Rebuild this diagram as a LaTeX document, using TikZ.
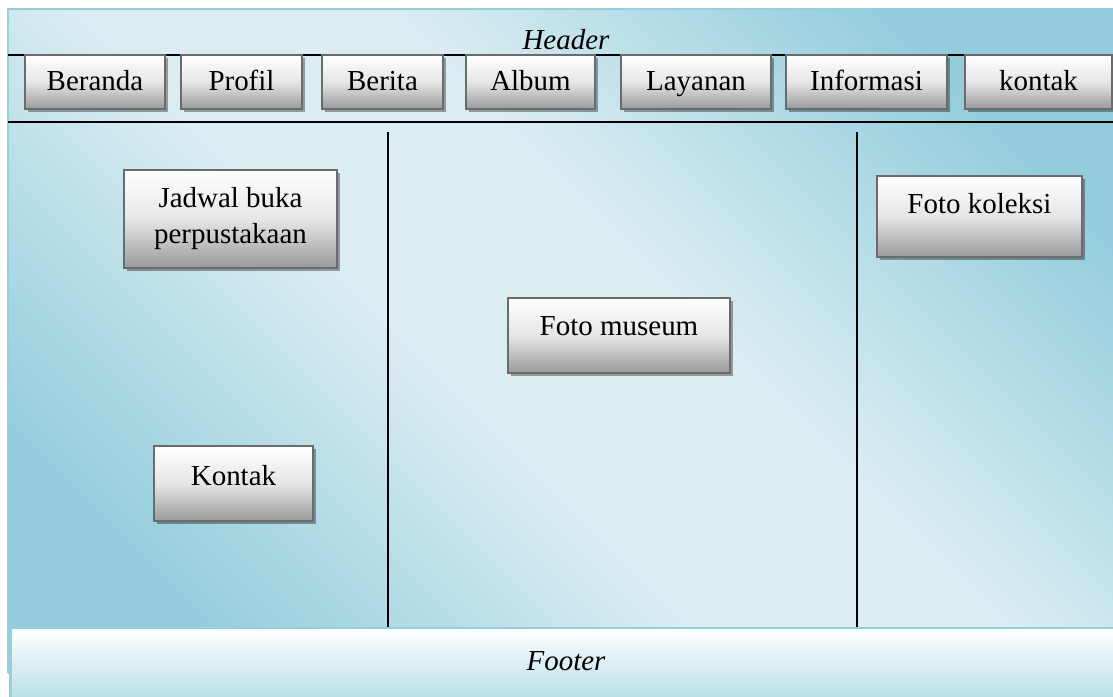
\documentclass[tikz,border=0pt]{standalone}
\usepackage{fontspec}
\setmainfont{Liberation Serif}
\usepackage{tikz}
\usetikzlibrary{shadows,positioning}
\definecolor{panDark}{HTML}{93CDDC}
\definecolor{panLight}{HTML}{DCEDF2}
\definecolor{panEdge}{HTML}{93CFDC}
\definecolor{footDark}{HTML}{B8DEE8}
\definecolor{btnGray}{HTML}{9A9A9A}
\definecolor{btnEdge}{HTML}{6B6B6B}
\pgfdeclarehorizontalshading{pageshade}{100bp}{color(0bp)=(panDark); color(24bp)=(panDark); color(44bp)=(panLight); color(56bp)=(panLight); color(76bp)=(panDark); color(100bp)=(panDark)}
\tikzset{
	menu/.style={% grey buttons of the menu bar and the content boxes
		draw=btnEdge, line width=1.5pt,
		top color=white, bottom color=btnGray, middle color=white!75!btnGray,
		minimum height=1.35cm,
		inner sep=0pt,
		text height=0.5cm,
		text depth=0.1cm,
		align=center,
		drop shadow={shadow xshift=0.07cm, shadow yshift=-0.07cm, fill=black, opacity=0.35}
	},
	box/.style={menu, minimum height=1.875cm},
	label/.style={font=\itshape\fontsize{20.6}{25.5}\selectfont, anchor=base}
}

\begin{document}
\begin{tikzpicture}[x=0.025cm, y=-0.025cm, every node/.style={font=\fontsize{20.6}{25.5}\selectfont}]
		\useasboundingbox (0,0) rectangle (1113,697);
		% page background
		\fill [shading=pageshade, shading angle=45] (8,9) rectangle (1120,673);
		\draw [panEdge, line width=1.4pt] (1120,9) -- (8,9) -- (8,673);
		\draw [line width=1.1pt] (8,55) -- (1120,55);
		\draw [line width=1.4pt] (8,122) -- (1120,122);
		\draw [line width=1.4pt] (388,132) -- (388,628) (857,132) -- (857,628);
		
		\node [label] (header) at (566,50) {Header};
		\node [menu, minimum width=3.5cm] (beranda) at (95,82) {Beranda};
		\node [menu, minimum width=3.025cm] (profil) at (241.5,82) {Profil};
		\node [menu, minimum width=3.025cm] (berita) at (382.5,82) {Berita};
		\node [menu, minimum width=3.225cm] (album) at (530.5,82) {Album};
		\node [menu, minimum width=3.75cm] (layanan) at (696,82) {Layanan};
		\node [menu, minimum width=4.025cm] (informasi) at (866.5,82) {Informasi};
		\node [menu, minimum width=3.675cm] (kontak) at (1038.5,82) {kontak};
		
		\node [box, minimum width=5.325cm, minimum height=2.45cm, text height=1.4cm, text depth=0.2cm] (jadwal) at (230.5,219) {Jadwal buka\\perpustakaan};
		\node [box, minimum width=3.975cm, text depth=0.425cm] (kontakbox) at (233.5,483.5) {Kontak};
		\node [box, minimum width=5.55cm, text depth=0.525cm] (museum) at (619,335.5) {Foto museum};
		\node [box, minimum width=5.125cm, minimum height=2.025cm, text depth=0.675cm] (koleksi) at (979.5,216.5) {Foto koleksi};
		
		% footer strip
		\shade [top color=white, bottom color=footDark] (10.5,628) rectangle (1120,700);
		\draw [panEdge, line width=2pt] (10.5,700) -- (10.5,628) -- (1120,628);
		\node [label] (footer) at (566,670) {Footer};
	\end{tikzpicture}
\end{document}
